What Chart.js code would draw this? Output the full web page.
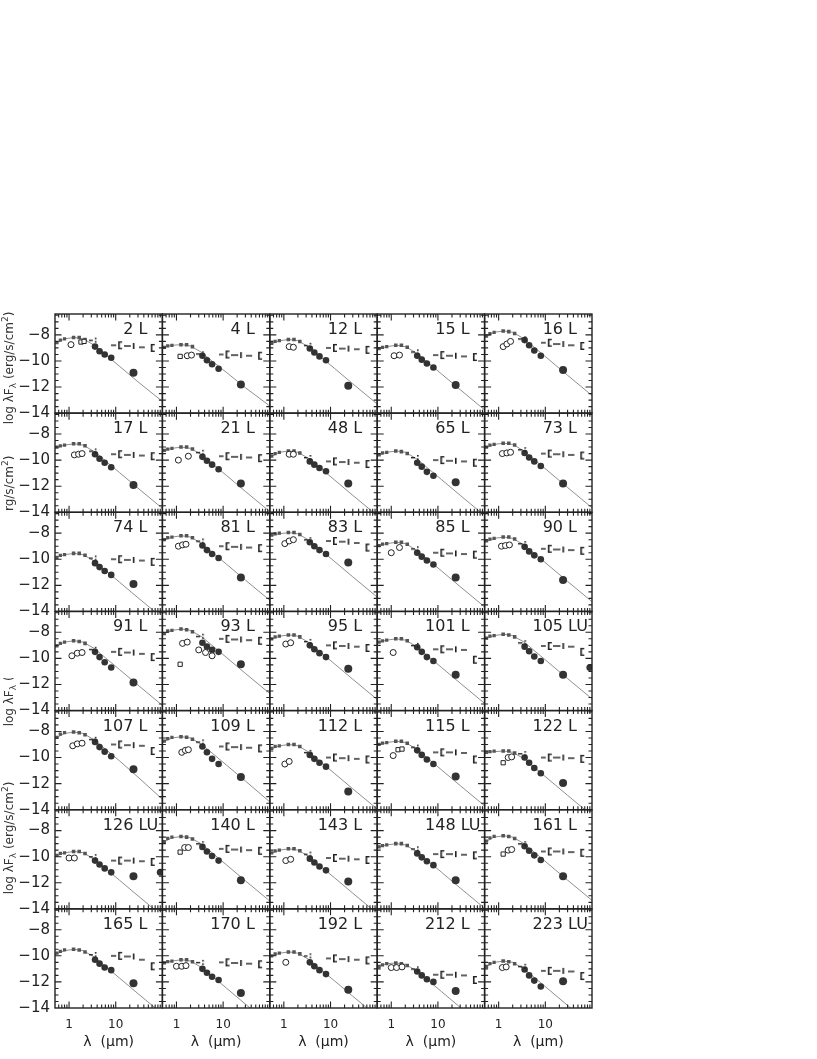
<!DOCTYPE html>
<html><head><meta charset="utf-8">
<script src="https://cdn.jsdelivr.net/npm/chart.js@4.4.0/dist/chart.umd.min.js"></script>
<style>html,body{margin:0;padding:0;background:#fff;}canvas{display:block;}</style>
</head><body>
<canvas id="c" width="817" height="1059"></canvas>
<script>
// ---------------- data ----------------
const PANEL_LABELS = ['2 L','4 L','12 L','15 L','16 L','17 L','21 L','48 L','65 L','73 L',
  '74 L','81 L','83 L','85 L','90 L','91 L','93 L','95 L','101 L','105 LU',
  '107 L','109 L','112 L','115 L','122 L','126 LU','140 L','143 L','148 LU','161 L',
  '165 L','170 L','192 L','212 L','223 LU'];
const X_TICKS = [1, 10];
const Y_TICKS = [-14, -12, -10, -8];
const X_RANGE = [0.5, 100];
const Y_RANGE = [-14, -6.4];

const MODEL_WL = [0.5, 0.8, 1.3, 2, 3.5, 6, 12, 30, 100];
const MODEL_Y = [
 [-8.7,-8.3,-8.2,-8.3,-8.8,-9.5,-10.4,-11.6,-13.1],
 [-9.0,-8.8,-8.75,-8.85,-9.35,-10.05,-10.9,-12.05,-13.45],
 [-8.75,-8.45,-8.35,-8.45,-8.95,-9.65,-10.55,-11.75,-13.3],
 [-9.1,-8.9,-8.8,-8.9,-9.4,-10.1,-11.0,-12.2,-13.75],
 [-8.2,-7.8,-7.7,-7.8,-8.3,-9.0,-9.9,-11.1,-12.65],
 [-9.1,-8.85,-8.75,-8.85,-9.35,-10.05,-10.95,-12.15,-13.7],
 [-9.3,-9.1,-9.0,-9.1,-9.6,-10.3,-11.2,-12.4,-13.95],
 [-9.8,-9.4,-9.3,-9.4,-9.9,-10.6,-11.5,-12.7,-14.25],
 [-9.7,-9.4,-9.3,-9.4,-9.9,-10.6,-11.5,-12.7,-14.25],
 [-9.1,-8.8,-8.7,-8.8,-9.3,-10.0,-10.9,-12.1,-13.65],
 [-9.9,-9.65,-9.55,-9.65,-10.15,-10.85,-11.75,-12.95,-14.5],
 [-8.6,-8.3,-8.2,-8.3,-8.8,-9.5,-10.4,-11.6,-13.15],
 [-8.2,-8.05,-7.95,-8.05,-8.55,-9.25,-10.15,-11.35,-12.9],
 [-9.0,-8.8,-8.7,-8.8,-9.3,-10.0,-10.9,-12.1,-13.65],
 [-8.7,-8.4,-8.3,-8.4,-8.9,-9.6,-10.5,-11.7,-13.25],
 [-9.15,-8.75,-8.65,-8.75,-9.25,-9.95,-10.85,-12.05,-13.6],
 [-8.15,-7.85,-7.75,-7.85,-8.35,-9.05,-9.95,-11.15,-12.7],
 [-8.6,-8.3,-8.2,-8.3,-8.8,-9.5,-10.4,-11.6,-13.15],
 [-8.8,-8.6,-8.5,-8.6,-9.1,-9.8,-10.7,-11.9,-13.45],
 [-8.5,-8.25,-8.15,-8.25,-8.75,-9.45,-10.35,-11.55,-13.1],
 [-8.55,-8.15,-8.05,-8.15,-8.65,-9.35,-10.25,-11.5,-13.2],
 [-8.85,-8.5,-8.4,-8.5,-9.0,-9.7,-10.6,-11.8,-13.4],
 [-9.4,-9.1,-9.0,-9.1,-9.6,-10.3,-11.2,-12.4,-13.95],
 [-9.1,-8.85,-8.75,-8.85,-9.35,-10.05,-10.95,-12.15,-13.7],
 [-9.6,-9.55,-9.5,-9.6,-10.1,-10.8,-11.7,-12.9,-14.45],
 [-10.0,-9.7,-9.6,-9.7,-10.2,-10.9,-11.8,-13.0,-14.55],
 [-8.95,-8.55,-8.45,-8.55,-9.05,-9.75,-10.65,-11.85,-13.4],
 [-9.8,-9.5,-9.4,-9.5,-10.0,-10.7,-11.6,-12.8,-14.35],
 [-9.3,-9.1,-9.0,-9.1,-9.6,-10.3,-11.2,-12.4,-13.95],
 [-8.9,-8.5,-8.4,-8.5,-9.0,-9.7,-10.6,-11.8,-13.35],
 [-9.9,-9.6,-9.5,-9.6,-10.1,-10.8,-11.7,-12.9,-14.45],
 [-10.6,-10.4,-10.3,-10.4,-10.9,-11.6,-12.5,-13.7,-15.25],
 [-10.1,-9.8,-9.7,-9.8,-10.3,-11.0,-11.9,-13.1,-14.65],
 [-10.8,-10.6,-10.55,-10.65,-11.15,-11.85,-12.75,-13.95,-15.5],
 [-10.9,-10.5,-10.4,-10.5,-11.0,-11.7,-12.6,-13.8,-15.35]
];

const PHOT_WL = [0.55, 0.65, 0.8, 1.25, 1.65, 2.2, 3.6, 4.5, 5.8, 8.0, 24];
const PHOT_Y = [
 [-8.6,-8.4,-8.3,-8.2,-8.2,-8.35,-8.9,-9.25,-9.5,-9.75,-10.9],
 [-8.95,-8.85,-8.8,-8.75,-8.75,-8.9,-9.6,-9.95,-10.25,-10.6,-11.8],
 [-8.65,-8.5,-8.45,-8.35,-8.35,-8.5,-9.05,-9.35,-9.65,-9.95,-11.9],
 [-9.05,-8.95,-8.9,-8.8,-8.8,-8.95,-9.6,-9.9,-10.2,-10.5,-11.85],
 [-8.1,-7.9,-7.8,-7.7,-7.75,-7.9,-8.4,-8.8,-9.2,-9.6,-10.7],
 [-9.0,-8.9,-8.85,-8.75,-8.75,-8.9,-9.55,-9.9,-10.2,-10.55,-11.9],
 [-9.25,-9.15,-9.1,-9.0,-9.0,-9.15,-9.75,-10.05,-10.35,-10.7,-11.8],
 [-9.7,-9.5,-9.4,-9.3,-9.3,-9.45,-10.1,-10.35,-10.6,-10.85,-11.8],
 [-9.6,-9.45,-9.4,-9.3,-9.35,-9.5,-10.2,-10.5,-10.9,-11.2,-11.7],
 [-9.0,-8.85,-8.8,-8.7,-8.7,-8.85,-9.45,-9.8,-10.1,-10.45,-11.8],
 [-9.85,-9.7,-9.65,-9.55,-9.55,-9.7,-10.3,-10.6,-10.9,-11.2,-11.9],
 [-8.5,-8.35,-8.3,-8.2,-8.2,-8.35,-8.95,-9.3,-9.6,-9.9,-11.4],
 [-8.15,-8.05,-8.0,-7.95,-7.95,-8.1,-8.7,-9.0,-9.3,-9.6,-10.25],
 [-8.95,-8.85,-8.8,-8.7,-8.7,-8.85,-9.5,-9.8,-10.1,-10.4,-11.4],
 [-8.6,-8.45,-8.4,-8.3,-8.3,-8.45,-9.05,-9.4,-9.7,-10.0,-11.6],
 [-9.05,-8.85,-8.75,-8.65,-8.7,-8.85,-9.5,-9.9,-10.3,-10.7,-11.85],
 [-8.1,-7.9,-7.85,-7.75,-7.8,-7.95,-8.8,-9.1,-9.35,-9.5,-10.45],
 [-8.5,-8.35,-8.3,-8.2,-8.2,-8.35,-9.0,-9.3,-9.6,-9.9,-10.8],
 [-8.75,-8.65,-8.6,-8.5,-8.5,-8.65,-9.15,-9.5,-9.9,-10.2,-11.25],
 [-8.45,-8.3,-8.25,-8.15,-8.2,-8.35,-9.1,-9.45,-9.85,-10.2,-11.25],
 [-8.45,-8.2,-8.1,-8.05,-8.1,-8.25,-8.8,-9.2,-9.55,-9.9,-10.9],
 [-8.75,-8.55,-8.45,-8.4,-8.45,-8.6,-9.15,-9.6,-10.1,-10.5,-11.5],
 [-9.3,-9.15,-9.1,-9.0,-9.0,-9.15,-9.8,-10.1,-10.4,-10.7,-12.6],
 [-9.0,-8.9,-8.85,-8.75,-8.75,-8.9,-9.45,-9.8,-10.15,-10.5,-11.45],
 [-9.6,-9.55,-9.5,-9.5,-9.5,-9.65,-10.0,-10.4,-10.8,-11.2,-11.95],
 [-9.9,-9.75,-9.7,-9.6,-9.6,-9.75,-10.3,-10.6,-10.9,-11.2,-11.5],
 [-8.85,-8.6,-8.5,-8.45,-8.5,-8.65,-9.25,-9.6,-9.95,-10.3,-11.8],
 [-9.7,-9.55,-9.5,-9.4,-9.4,-9.55,-10.15,-10.45,-10.75,-11.05,-11.9],
 [-9.25,-9.15,-9.1,-9.0,-9.0,-9.15,-9.75,-10.05,-10.35,-10.65,-11.8],
 [-8.8,-8.55,-8.45,-8.4,-8.45,-8.6,-9.2,-9.55,-9.9,-10.25,-11.5],
 [-9.8,-9.65,-9.55,-9.5,-9.55,-9.7,-10.3,-10.6,-10.9,-11.1,-12.1],
 [-10.55,-10.45,-10.4,-10.3,-10.3,-10.45,-11.0,-11.3,-11.6,-11.85,-12.85],
 [-10.0,-9.85,-9.8,-9.7,-9.7,-9.85,-10.5,-10.8,-11.1,-11.4,-12.6],
 [-10.8,-10.7,-10.6,-10.55,-10.6,-10.75,-11.2,-11.5,-11.8,-12.0,-12.7],
 [-10.8,-10.6,-10.5,-10.4,-10.45,-10.6,-11.05,-11.5,-11.9,-12.35,-11.95]
];

// [panel, wavelength, value]
const EXTRA_POINTS = [[19, 90, -10.7], [25, 90, -11.2]];
const OPEN_CIRCLES = [
 [0,1.1,-8.75],
 [1,1.7,-9.6],[1,2.1,-9.55],
 [2,1.3,-8.9],[2,1.6,-8.95],
 [3,1.15,-9.6],[3,1.5,-9.55],
 [4,1.25,-8.9],[4,1.5,-8.7],[4,1.8,-8.5],
 [5,1.3,-9.6],[5,1.6,-9.55],[5,1.9,-9.5],
 [6,1.1,-10.0],[6,1.8,-9.7],
 [7,1.3,-9.55],[7,1.6,-9.55],
 [9,1.2,-9.5],[9,1.5,-9.45],[9,1.8,-9.4],
 [11,1.1,-9.0],[11,1.35,-8.9],[11,1.6,-8.85],
 [12,1.05,-8.8],[12,1.3,-8.6],[12,1.6,-8.5],
 [13,1.0,-9.5],[13,1.5,-9.1],
 [14,1.15,-9.0],[14,1.4,-8.95],[14,1.7,-8.9],
 [15,1.15,-9.8],[15,1.5,-9.6],[15,1.9,-9.55],
 [16,1.35,-8.85],[16,1.7,-8.75],[16,3.0,-9.35],[16,4.2,-9.55],[16,5.8,-9.8],
 [17,1.1,-8.9],[17,1.4,-8.8],
 [18,1.1,-9.55],
 [20,1.2,-9.1],[20,1.5,-8.95],[20,1.9,-8.9],
 [21,1.3,-9.6],[21,1.55,-9.45],[21,1.8,-9.4],
 [22,1.05,-10.5],[22,1.3,-10.3],
 [23,1.1,-9.85],
 [24,1.6,-10.0],[24,1.9,-9.95],
 [25,1.0,-10.1],[25,1.3,-10.1],
 [26,1.5,-9.3],[26,1.8,-9.3],
 [27,1.1,-10.3],[27,1.4,-10.2],
 [29,1.6,-9.5],[29,1.9,-9.45],
 [31,1.0,-10.8],[31,1.3,-10.8],[31,1.6,-10.75],
 [32,1.1,-10.5],
 [33,1.0,-10.9],[33,1.3,-10.9],[33,1.7,-10.85],
 [34,1.2,-10.9],[34,1.45,-10.85]
];
const OPEN_SQUARES = [
 [0,1.8,-8.55],[0,2.1,-8.5],
 [1,1.2,-9.65],
 [16,1.2,-10.45],
 [23,1.4,-9.4],[23,1.7,-9.35],
 [24,1.25,-10.4],
 [26,1.2,-9.65],
 [29,1.25,-9.8]
];

const LIMIT_WL = [3.3, 11, 20, 38, 62];
const LIMIT_Y = [
 [-8.4,-8.8,-8.85,-8.95,-9.0],
 [-9.45,-9.5,-9.55,-9.6,-9.6],
 [-8.8,-9.0,-9.05,-9.1,-9.15],
 [-9.3,-9.55,-9.6,-9.65,-9.7],
 [-8.3,-8.6,-8.7,-8.8,-8.85],
 [-9.3,-9.55,-9.6,-9.65,-9.7],
 [-9.4,-9.7,-9.75,-9.8,-9.85],
 [-9.8,-10.1,-10.15,-10.2,-10.3],
 [-9.8,-10.0,-10.05,-10.1,-10.2],
 [-9.2,-9.5,-9.55,-9.6,-9.65],
 [-9.9,-10.0,-10.05,-10.1,-10.2],
 [-8.6,-9.0,-9.05,-9.1,-9.15],
 [-8.5,-8.6,-8.65,-8.75,-9.1],
 [-9.2,-9.5,-9.55,-9.6,-9.65],
 [-8.8,-9.2,-9.25,-9.3,-9.35],
 [-9.3,-9.5,-9.55,-9.65,-9.9],
 [-8.3,-8.5,-8.55,-8.6,-8.65],
 [-8.7,-9.0,-9.05,-9.1,-9.2],
 [-9.0,-9.3,-9.3,-9.35,-10.1],
 [-8.8,-9.05,-9.05,-9.1,-9.5],
 [-8.6,-9.0,-9.05,-9.1,-9.5],
 [-8.8,-9.15,-9.2,-9.25,-9.3],
 [-9.6,-10.0,-10.05,-10.1,-10.15],
 [-9.2,-9.6,-9.6,-9.65,-10.15],
 [-9.7,-10.0,-10.0,-10.05,-10.1],
 [-10.0,-10.3,-10.3,-10.35,-10.4],
 [-9.0,-9.4,-9.45,-9.5,-9.55],
 [-9.8,-10.1,-10.15,-10.2,-10.25],
 [-9.4,-9.8,-9.8,-9.85,-9.9],
 [-9.0,-9.6,-9.6,-9.65,-9.7],
 [-9.9,-10.0,-10.05,-10.3,-10.8],
 [-10.5,-10.5,-10.55,-10.6,-10.65],
 [-10.0,-10.2,-10.25,-10.3,-10.35],
 [-11.0,-11.45,-11.45,-11.5,-11.85],
 [-10.8,-11.15,-11.15,-11.2,-11.55]
];

// ---------------- layout / style ----------------
const NCOLS = 5, NROWS = 7;
const INK = '#222';
const FONT = "'DejaVu Sans', 'Liberation Sans', sans-serif";

function glyph(w, h, draw) {
  const cv = document.createElement('canvas');
  cv.width = w; cv.height = h;
  const g = cv.getContext('2d');
  g.fillStyle = INK;
  draw(g);
  return cv;
}
const G_SMALL = glyph(9, 7, g => { g.fillRect(0, 3, 4, 1.4); g.fillRect(6, 1, 1.6, 1.6); g.fillRect(6, 4.4, 1.6, 1.6); });
const G_DASHBRACKET = glyph(13, 10, g => { g.fillRect(0, 4.3, 5, 1.4); g.fillRect(7, 1, 1.6, 8); g.fillRect(7, 1, 4, 1.4); g.fillRect(7, 7.6, 4, 1.4); });
const G_DASHTICK = glyph(12, 10, g => { g.fillRect(0, 4.3, 7, 1.4); g.fillRect(9, 2, 1.6, 6); });
const G_TILDE = glyph(8, 6, g => { g.fillRect(0, 2.3, 6, 1.4); });
const G_BRACKET = glyph(6, 10, g => { g.fillRect(1, 1, 1.6, 8); g.fillRect(1, 1, 4, 1.4); g.fillRect(1, 7.6, 4, 1.4); });
const LIMIT_GLYPHS = [G_SMALL, G_DASHBRACKET, G_DASHTICK, G_TILDE, G_BRACKET];

const PHOT_RADIUS = [2.3, 2.3, 2.3, 2.5, 2.5, 2.5, 3.3, 3.3, 3.3, 3.3, 4];
const PHOT_STYLE = ['rect','rect','rect','rect','rect','rect','circle','circle','circle','circle','circle'];
const PHOT_COLOR = ['#555','#555','#555','#555','#555','#555','#333','#333','#333','#333','#333'];

const datasets = [];
for (let i = 0; i < PANEL_LABELS.length; i++) {
  const c = i % NCOLS, r = Math.floor(i / NCOLS);
  const ax = { xAxisID: 'x' + c, yAxisID: 'y' + r, clip: 0 };
  datasets.push(Object.assign({
    data: MODEL_WL.map((w, k) => ({ x: w, y: MODEL_Y[i][k] })),
    showLine: true, borderColor: '#8f8f8f', borderWidth: 1, pointRadius: 0, order: 4
  }, ax));
  datasets.push(Object.assign({
    data: PHOT_WL.map((w, k) => ({ x: w, y: PHOT_Y[i][k] })),
    pointRadius: PHOT_RADIUS, pointStyle: PHOT_STYLE,
    pointBackgroundColor: PHOT_COLOR, pointBorderColor: PHOT_COLOR, pointBorderWidth: 0, order: 3
  }, ax));
  const extra = EXTRA_POINTS.filter(p => p[0] === i).map(p => ({ x: p[1], y: p[2] }));
  if (extra.length) datasets.push(Object.assign({
    data: extra, pointRadius: 3.5, pointBackgroundColor: '#333', pointBorderWidth: 0, order: 3
  }, ax));
  const oc = OPEN_CIRCLES.filter(p => p[0] === i).map(p => ({ x: p[1], y: p[2] }));
  if (oc.length) datasets.push(Object.assign({
    data: oc, pointRadius: 3, pointStyle: 'circle', pointBackgroundColor: '#fff',
    pointBorderColor: INK, pointBorderWidth: 1, order: 1
  }, ax));
  const os = OPEN_SQUARES.filter(p => p[0] === i).map(p => ({ x: p[1], y: p[2] }));
  if (os.length) datasets.push(Object.assign({
    data: os, pointRadius: 3, pointStyle: 'rect', pointBackgroundColor: '#fff',
    pointBorderColor: INK, pointBorderWidth: 1, order: 1
  }, ax));
  datasets.push(Object.assign({
    data: LIMIT_WL.map((w, k) => ({ x: w, y: LIMIT_Y[i][k] })),
    pointRadius: 3, pointStyle: LIMIT_GLYPHS, order: 0
  }, ax));
}

const scales = {};
for (let c = 0; c < NCOLS; c++) {
  scales['x' + c] = {
    type: 'logarithmic', position: 'bottom', stack: 'cols', stackWeight: 1, weight: c,
    min: X_RANGE[0], max: X_RANGE[1],
    grid: { display: false, drawTicks: false }, border: { display: false },
    afterBuildTicks: s => { s.ticks = X_TICKS.map(v => ({ value: v })); },
    ticks: { color: INK, font: { family: FONT, size: 12 }, padding: 10, maxRotation: 0, autoSkip: false,
             callback: v => String(v) },
    title: { display: true, text: 'λ  (μm)', color: INK, font: { family: FONT, size: 14 }, padding: { top: 0, bottom: 2 } },
    afterFit: s => { s.height = 45; }
  };
}
for (let r = 0; r < NROWS; r++) {
  scales['y' + r] = {
    type: 'linear', position: 'left', stack: 'rows', stackWeight: 1, weight: 10 - r,
    min: Y_RANGE[0], max: Y_RANGE[1],
    grid: { display: false, drawTicks: false }, border: { display: false },
    afterBuildTicks: s => { s.ticks = Y_TICKS.map(v => ({ value: v })); },
    ticks: { color: INK, font: { family: FONT, size: 15 }, padding: 5, autoSkip: false,
             callback: v => '\u2212' + Math.abs(v) },
    afterFit: s => { s.width = 55; }
  };
}

function drawYTitle(ctx, cx, cy, clip) {
  ctx.save();
  if (clip) { ctx.beginPath(); ctx.rect(clip[0], clip[1], clip[2], clip[3]); ctx.clip(); }
  ctx.translate(cx, cy);
  ctx.rotate(-Math.PI / 2);
  ctx.fillStyle = '#333';
  ctx.textBaseline = 'alphabetic';
  const big = '12px ' + FONT, small = '9px ' + FONT;
  const parts = [['log \u03bbF', big, 0], ['\u03bb', small, 3], [' (erg/s/cm', big, 0], ['2', small, -5], [')', big, 0]];
  let w = 0;
  parts.forEach(p => { ctx.font = p[1]; w += ctx.measureText(p[0]).width; });
  let x = -w / 2;
  parts.forEach(p => { ctx.font = p[1]; ctx.fillText(p[0], x, 4 + p[2]); x += ctx.measureText(p[0]).width; });
  ctx.restore();
}

const panelPlugin = {
  id: 'panels',
  afterDatasetsDraw(chart) {
    const ctx = chart.ctx;
    ctx.save();
    for (let r = 0; r < NROWS; r++) {
      for (let c = 0; c < NCOLS; c++) {
        const xs = chart.scales['x' + c], ys = chart.scales['y' + r];
        const L = xs.left, R = xs.right, T = ys.top, B = ys.bottom;
        ctx.strokeStyle = INK; ctx.lineWidth = 1.4;
        ctx.strokeRect(L, T, R - L, B - T);
        ctx.lineWidth = 1.1;
        ctx.beginPath();
        for (let k = -28; k <= -13; k++) {
          const v = k / 2, p = ys.getPixelForValue(v);
          if (p < T + 1 || p > B - 1) continue;
          const len = (v % 2 === 0) ? 6.5 : 3.5;
          ctx.moveTo(L, p); ctx.lineTo(L + len, p);
          ctx.moveTo(R, p); ctx.lineTo(R - len, p);
        }
        [0.1, 1, 10].forEach(d => {
          for (let m = 1; m <= 9; m++) {
            const v = m * d;
            if (v <= X_RANGE[0] || v >= X_RANGE[1]) continue;
            const p = xs.getPixelForValue(v);
            const len = (m === 1) ? 6.5 : 3.5;
            ctx.moveTo(p, T); ctx.lineTo(p, T + len);
            ctx.moveTo(p, B); ctx.lineTo(p, B - len);
          }
        });
        ctx.stroke();
        // panel label
        const i = r * NCOLS + c;
        const label = PANEL_LABELS[i];
        const base = label.replace(/U$/, '');
        ctx.font = '16px ' + FONT;
        ctx.fillStyle = INK;
        ctx.textBaseline = 'alphabetic';
        const bw = ctx.measureText(base).width;
        ctx.fillText(label, R - 15 - bw, T + 20);
      }
    }
    ctx.restore();
  },
  afterDraw(chart) {
    const ctx = chart.ctx;
    drawYTitle(ctx, 9, 368, null);
    drawYTitle(ctx, 9, 512, [0, 440, 30, 70]);
    drawYTitle(ctx, 9, 670, [0, 678, 30, 60]);
    drawYTitle(ctx, 9, 838, null);
  }
};

new Chart(document.getElementById('c'), {
  type: 'scatter',
  data: { datasets },
  options: {
    responsive: false, animation: false, devicePixelRatio: 1, events: [],
    layout: { padding: { left: 0, top: 314, right: 225, bottom: 6 } },
    plugins: { legend: { display: false }, tooltip: { enabled: false } },
    scales
  },
  plugins: [panelPlugin]
});
</script>
</body></html>
